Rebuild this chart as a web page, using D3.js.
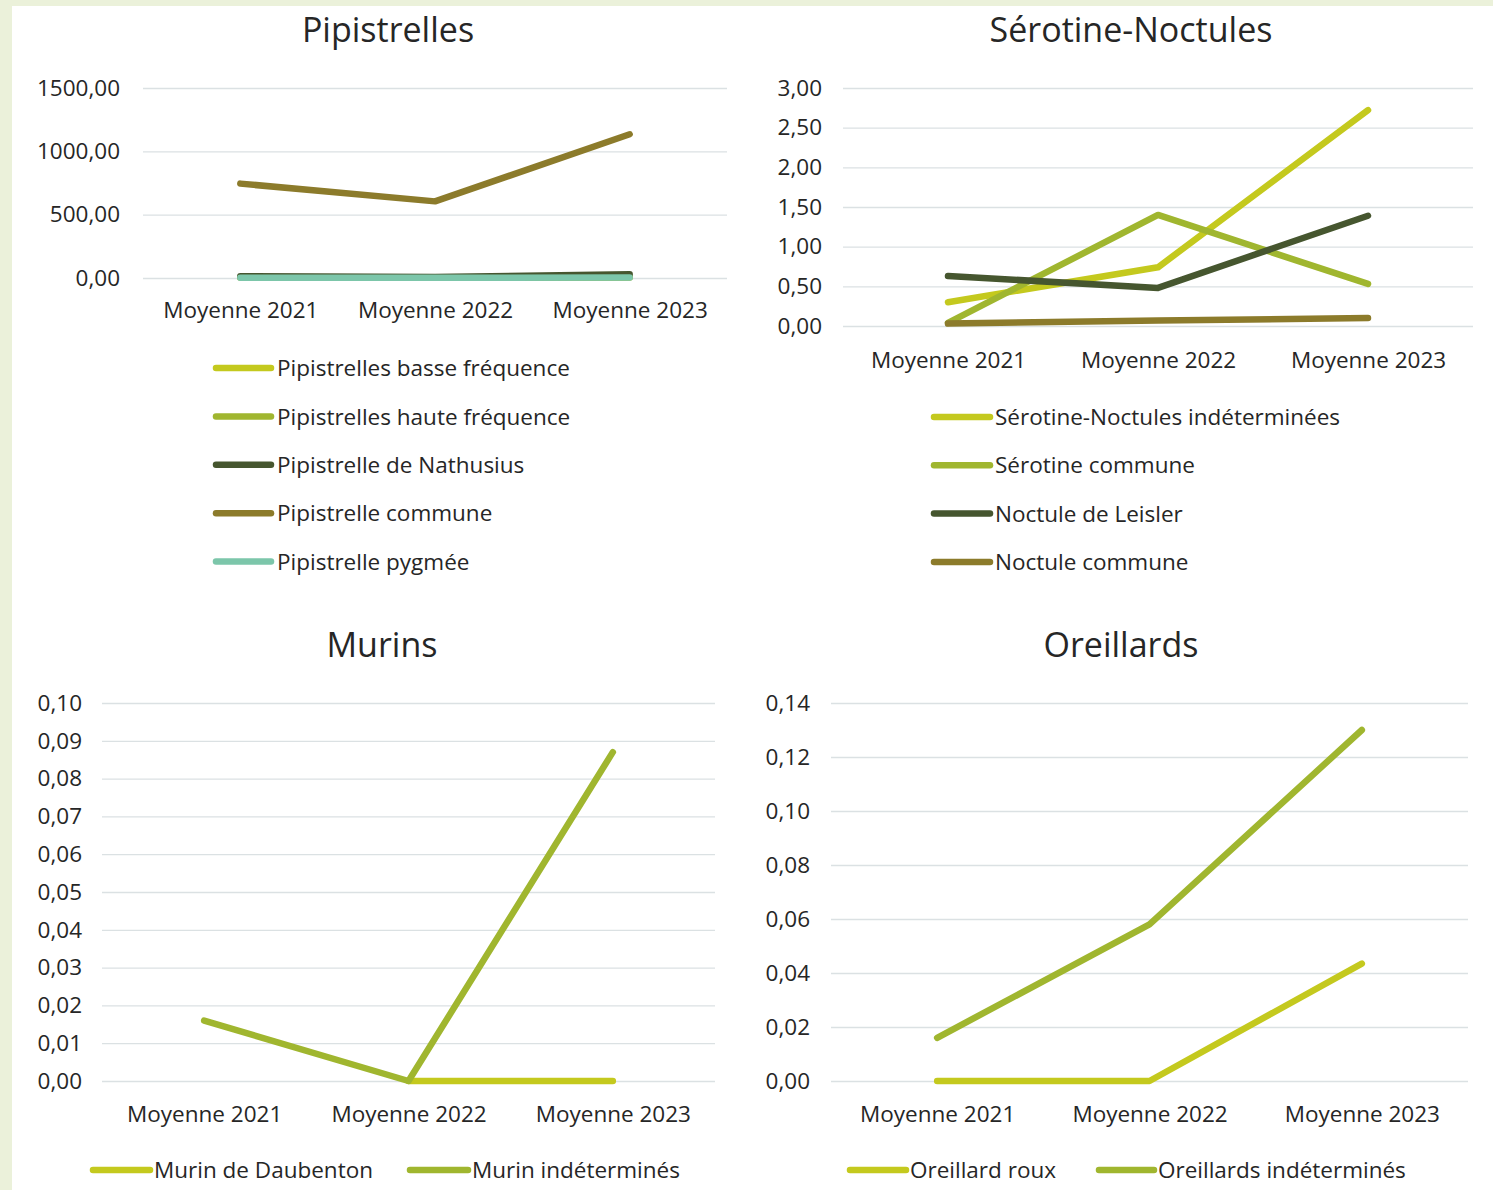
<!DOCTYPE html>
<html>
<head>
<meta charset="utf-8">
<script src="https://cdn.jsdelivr.net/npm/d3@7"></script>
<style>
  html, body { margin: 0; padding: 0; background: #ebf1da; }
  svg { display: block; }
  text { font-family: "Open Sans", "Noto Sans", sans-serif; fill: #262626; }
</style>
</head>
<body>
<svg id="chart" width="1493" height="1190"></svg>
<script>
// ---------- DATA ----------
const categories = ["Moyenne 2021", "Moyenne 2022", "Moyenne 2023"];

// Pipistrelles
const pipNames = ["Pipistrelles basse fréquence", "Pipistrelles haute fréquence", "Pipistrelle de Nathusius", "Pipistrelle commune", "Pipistrelle pygmée"];
const pipBasseFreq = [5, 3, 8];
const pipHauteFreq = [3, 2, 4];
const pipNathusius = [14, 8, 30];
const pipCommune = [745, 605, 1135];
const pipPygmee = [2, 1, 3];
const pipTicks = [0, 500, 1000, 1500];

// Sérotine-Noctules
const serNames = ["Sérotine-Noctules indéterminées", "Sérotine commune", "Noctule de Leisler", "Noctule commune"];
const serIndet = [0.30, 0.74, 2.72];
const serCommune = [0.04, 1.40, 0.53];
const nocLeisler = [0.63, 0.48, 1.39];
const nocCommune = [0.03, 0.07, 0.10];
const serTicks = [0, 0.5, 1, 1.5, 2, 2.5, 3];

// Murins
const murNames = ["Murin de Daubenton", "Murin indéterminés"];
const murDaubenton = [null, 0, 0];
const murIndet = [0.016, 0, 0.087];
const murTicks = [0, 0.01, 0.02, 0.03, 0.04, 0.05, 0.06, 0.07, 0.08, 0.09, 0.10];

// Oreillards
const oreNames = ["Oreillard roux", "Oreillards indéterminés"];
const oreRoux = [0, 0, 0.0435];
const oreIndet = [0.016, 0.058, 0.130];
const oreTicks = [0, 0.02, 0.04, 0.06, 0.08, 0.10, 0.12, 0.14];

// ---------- STYLE ----------
const C_YELLOW = "#c4c91e";
const C_GREEN = "#a0b62f";
const C_DARK = "#46562f";
const C_BROWN = "#8c7b2b";
const C_TEAL = "#7cc6aa";
const FS = "22.5px";

const fmt = d3.formatLocale({decimal: ",", thousands: " ", grouping: [3], currency: ["", ""]}).format(".2f");

const svg = d3.select("#chart");
svg.append("rect").attr("x", 12).attr("y", 6).attr("width", 1493 - 12).attr("height", 1190 - 6).attr("fill", "#ffffff");

const panels = [
  {
    title: "Pipistrelles", titleX: 388, titleY: 30,
    names: pipNames, series: [pipBasseFreq, pipHauteFreq, pipNathusius, pipCommune, pipPygmee],
    colors: [C_YELLOW, C_GREEN, C_DARK, C_BROWN, C_TEAL],
    ticks: pipTicks, grid: [143, 727], yr: [278, 88], catY: 310, pad: 23,
    legend: {type: "v", x0: 216, x1: 271, tx: 277, y0: 368, dy: 48.4}
  },
  {
    title: "Sérotine-Noctules", titleX: 1131, titleY: 30,
    names: serNames, series: [serIndet, serCommune, nocLeisler, nocCommune],
    colors: [C_YELLOW, C_GREEN, C_DARK, C_BROWN],
    ticks: serTicks, grid: [843, 1473], yr: [326, 88], catY: 360, pad: 21,
    legend: {type: "v", x0: 934, x1: 990, tx: 995, y0: 417, dy: 48.3}
  },
  {
    title: "Murins", titleX: 382, titleY: 645,
    names: murNames, series: [murDaubenton, murIndet],
    colors: [C_YELLOW, C_GREEN],
    ticks: murTicks, grid: [102, 715], yr: [1081, 703], catY: 1114, pad: 20,
    legend: {type: "h", y: 1170, items: [{x0: 93, x1: 150, tx: 154}, {x0: 410, x1: 468, tx: 472}]}
  },
  {
    title: "Oreillards", titleX: 1121, titleY: 645,
    names: oreNames, series: [oreRoux, oreIndet],
    colors: [C_YELLOW, C_GREEN],
    ticks: oreTicks, grid: [831, 1468], yr: [1081, 703], catY: 1114, pad: 21,
    legend: {type: "h", y: 1170, items: [{x0: 850, x1: 906, tx: 910}, {x0: 1099, x1: 1154, tx: 1158}]}
  }
];

panels.forEach(p => {
  const g = svg.append("g");
  const x = d3.scalePoint().domain(categories).range(p.grid).padding(0.5);
  const y = d3.scaleLinear().domain([p.ticks[0], p.ticks[p.ticks.length - 1]]).range(p.yr);

  // title
  g.append("text").attr("x", p.titleX).attr("y", p.titleY).attr("dy", "0.36em")
    .attr("text-anchor", "middle").style("font-size", "34px").text(p.title);

  // y axis + gridlines
  const ya = g.append("g").attr("transform", `translate(${p.grid[0]},0)`)
    .call(d3.axisLeft(y).tickValues(p.ticks).tickFormat(fmt)
      .tickSize(-(p.grid[1] - p.grid[0])).tickPadding(p.pad));
  ya.select(".domain").remove();
  ya.selectAll(".tick line").attr("stroke", "#dbe1e3").attr("stroke-width", 1.3);
  ya.selectAll(".tick text").style("font-size", FS).style("font-family", "'Open Sans', sans-serif").attr("fill", "#262626");

  // x axis labels
  const xa = g.append("g").attr("transform", `translate(0,${p.catY})`)
    .call(d3.axisBottom(x).tickSize(0).tickPadding(0));
  xa.select(".domain").remove();
  xa.selectAll(".tick text").attr("y", 0).attr("dy", "0.36em")
    .style("font-size", FS).style("font-family", "'Open Sans', sans-serif").attr("fill", "#262626");

  // lines
  const line = d3.line()
    .defined(d => d.v !== null)
    .x(d => x(d.c)).y(d => y(d.v));
  p.series.forEach((s, i) => {
    const pts = s.map((v, j) => ({c: categories[j], v: v}));
    g.append("path").datum(pts).attr("d", line)
      .attr("fill", "none").attr("stroke", p.colors[i]).attr("stroke-width", 6.5)
      .attr("stroke-linecap", "round").attr("stroke-linejoin", "round");
  });

  // legend
  const lg = g.append("g");
  p.names.forEach((n, i) => {
    let x0, x1, tx, yy;
    if (p.legend.type === "v") {
      x0 = p.legend.x0; x1 = p.legend.x1; tx = p.legend.tx; yy = p.legend.y0 + i * p.legend.dy;
    } else {
      const it = p.legend.items[i];
      x0 = it.x0; x1 = it.x1; tx = it.tx; yy = p.legend.y;
    }
    lg.append("line").attr("x1", x0).attr("x2", x1).attr("y1", yy).attr("y2", yy)
      .attr("stroke", p.colors[i]).attr("stroke-width", 6.5).attr("stroke-linecap", "round");
    lg.append("text").attr("x", tx).attr("y", yy).attr("dy", "0.36em")
      .style("font-size", FS).text(n);
  });
});
</script>
</body>
</html>
